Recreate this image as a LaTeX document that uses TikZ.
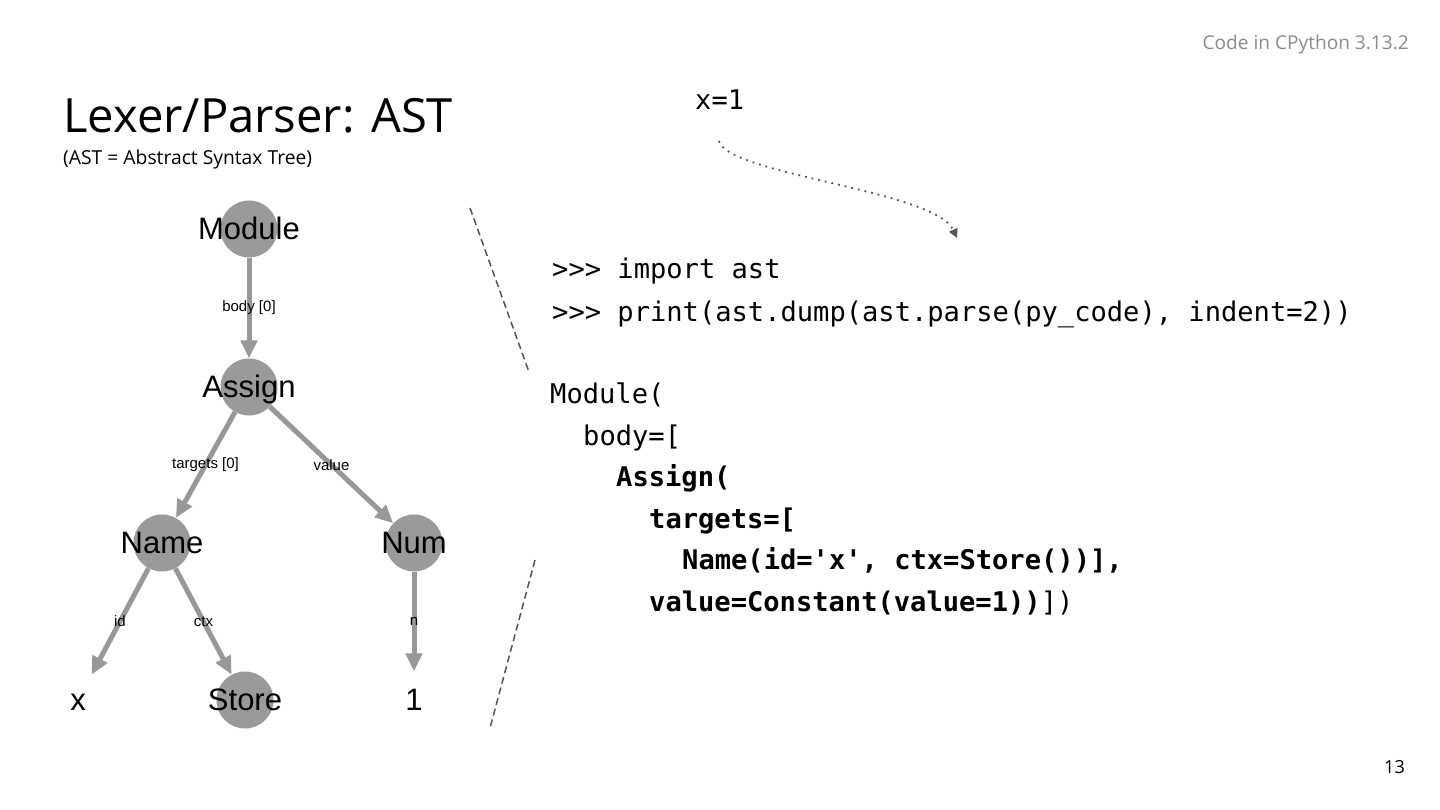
\documentclass[tikz,border=0pt]{standalone}
\usepackage{fontspec}
\setmainfont{Open Sans}
\setmonofont{DejaVu Sans Mono}
\newfontfamily\treefont{Liberation Sans}
\usetikzlibrary{positioning,arrows.meta}
\definecolor{nodegray}{RGB}{154,154,154}
\definecolor{edgegray}{RGB}{152,152,152}
\definecolor{guidegray}{RGB}{85,85,85}
\definecolor{notegray}{RGB}{140,140,140}
\newcommand{\codefont}{\fontsize{27.1}{32}\selectfont\ttfamily}
\newcommand{\treesize}{\fontsize{31}{35}\selectfont\treefont}

\begin{document}
\begin{tikzpicture}[x=1pt,y=-1pt,
    astnode/.style={circle,fill=nodegray,minimum size=57,inner sep=0},
    leafnode/.style={circle,minimum size=57,inner sep=0},
    asttext/.style={anchor=base,inner sep=0,font=\treesize},
    astedge/.style={edgegray,line width=5,-{Triangle[length=18,width=16]}},
    elabel/.style={midway,text=black,font=\fontsize{15}{17}\selectfont\treefont},
    codeline/.style={anchor=base west,inner sep=0,font=\codefont},
    guide/.style={guidegray,line width=1.5,dash pattern=on 7 off 4}]
  \useasboundingbox (0,0) rectangle (1440,810);
  \fill[white] (0,0) rectangle (1440,810);
  % header
  \node[anchor=base west,inner sep=0,font=\fontsize{47.2}{54}\selectfont] (title) at (63,133) {Lexer/Parser: AST};
  \node[anchor=base west,inner sep=0,font=\fontsize{19.3}{22}\selectfont] (subtitle) at (63,165) {(AST = Abstract Syntax Tree)};
  \node[anchor=base east,inner sep=0,text=notegray,font=\fontsize{19.1}{22}\selectfont] (version) at (1409,50) {Code in CPython 3.13.2};
  \node[anchor=base east,inner sep=0,font=\fontsize{18}{21}\selectfont] (pageno) at (1405,773) {13};
  % tree
  \node[astnode] (module) at (249,229) {};
  \node[asttext] at ([yshift=-10.5pt]module.center) {Module};
  \node[astnode] (assign) at (249,387) {};
  \node[asttext] at ([yshift=-10.5pt]assign.center) {Assign};
  \node[astnode] (name) at (162,543) {};
  \node[asttext] at ([yshift=-10.5pt]name.center) {Name};
  \node[astnode] (num) at (414,543) {};
  \node[asttext] at ([yshift=-10.5pt]num.center) {Num};
  \node[astnode] (store) at (245,700) {};
  \node[asttext] at ([yshift=-10.5pt]store.center) {Store};
  \node[leafnode] (xleaf) at (78,700) {};
  \node[asttext] at ([yshift=-10.5pt]xleaf.center) {x};
  \node[leafnode] (oneleaf) at (414,700) {};
  \node[asttext] at ([yshift=-10.5pt]oneleaf.center) {1};
  \draw[astedge] (module) -- (assign) node[elabel] {body [0]};
  \draw[astedge] (assign) -- (name) node[elabel] {targets [0]};
  \draw[astedge] (assign) -- (num) node[elabel] {value};
  \draw[astedge] (name) -- (xleaf) node[elabel] {id};
  \draw[astedge] (name) -- (store) node[elabel] {ctx};
  \draw[astedge] (num) -- (oneleaf) node[elabel] {n};
  % separators
  \coordinate (gtop1) at (470,208); \coordinate (gtop2) at (529,372);
  \coordinate (gbot1) at (535,560); \coordinate (gbot2) at (490,728);
  \draw[guide] (gtop1) -- (gtop2);
  \draw[guide] (gbot1) -- (gbot2);
  % source and dump
  \node[codeline] (src) at (695,110) {x=1};
  \coordinate (flowstart) at (719,141); \coordinate (flowend) at (957,238);
  \draw[guidegray,line width=1.8,dash pattern=on 1.8 off 5,-{Triangle[length=9,width=9]}]
    (flowstart) .. controls (728,175) and (935,190) .. (flowend);
  \node[codeline] (c1) at (552,279) {>{}>{}> import ast};
  \node[codeline] (c2) at (552,321) {>{}>{}> print(ast.dump(ast.parse(py\_code), indent=2))};
  \node[codeline] (c3) at (550,403) {Module(};
  \node[codeline] (c4) at (583,445) {body=[};
  \node[codeline] (c5) at (616,486) {\bfseries Assign(};
  \node[codeline] (c6) at (649,528) {\bfseries targets=[};
  \node[codeline] (c7) at (682,569) {\bfseries Name(id='x', ctx=Store())],};
  \node[codeline] (c8) at (649,611) {\textbf{value=Constant(value=1))}])};
\end{tikzpicture}
\end{document}
